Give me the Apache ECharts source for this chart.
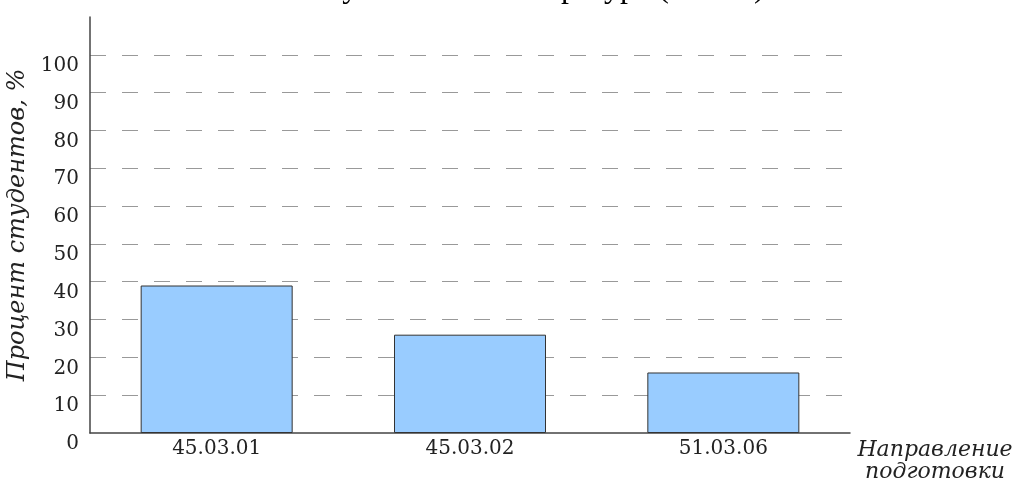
<!DOCTYPE html>
<html>
<head>
<meta charset="utf-8">
<script src="https://cdn.jsdelivr.net/npm/echarts@6/dist/echarts.min.js"></script>
<style>
html,body{margin:0;padding:0;background:#fff;}
#chart{width:1024px;height:484px;}
</style>
</head>
<body>
<div id="chart"></div>
<script>
const titleText = 'Обучение в магистратуре (2020 г)';
const categories = ['45.03.01', '45.03.02', '51.03.06'];
const values = [39, 26, 16];
const yMin = 0, yMax = 110, yInterval = 10, yLabelMax = 100;
const yName = 'Процент студентов, %';
const xName = 'Направление\nподготовки';

const chart = echarts.init(document.getElementById('chart'), null, {renderer: 'canvas'});
chart.setOption({
  animation: false,
  backgroundColor: '#fff',
  title: {
    text: titleText,
    left: 304,
    top: -27,
    padding: 0,
    textStyle: {fontFamily: 'Liberation Serif', fontSize: 32, fontWeight: 'normal', color: '#000'}
  },
  grid: {left: 90, right: 174, top: 17, bottom: 51, containLabel: false, outerBoundsMode: 'none'},
  xAxis: {
    type: 'category',
    data: categories,
    name: xName,
    nameLocation: 'end',
    nameGap: 85,
    nameTextStyle: {
      fontFamily: 'DejaVu Serif', fontStyle: 'italic', fontSize: 22, color: '#222',
      align: 'center', verticalAlign: 'top', lineHeight: 22, padding: [6, 0, 0, 0]
    },
    axisLine: {show: true, lineStyle: {color: '#444', width: 1.5}},
    axisTick: {show: false},
    axisLabel: {fontFamily: 'DejaVu Serif', fontSize: 20, color: '#222', margin: 6},
    splitLine: {show: false}
  },
  yAxis: {
    type: 'value',
    min: yMin, max: yMax, interval: yInterval,
    name: yName,
    nameLocation: 'middle',
    nameGap: 52,
    nameRotate: 90,
    nameTextStyle: {fontFamily: 'DejaVu Serif', fontStyle: 'italic', fontSize: 24, color: '#222'},
    axisLine: {show: true, lineStyle: {color: '#444', width: 1.5}},
    axisTick: {show: false},
    axisLabel: {
      fontFamily: 'DejaVu Serif', fontSize: 20, color: '#222', margin: 11,
      verticalAlign: 'top', padding: [1, 0, 0, 0],
      formatter: v => (v > yLabelMax ? '' : String(v))
    },
    splitLine: {
      show: true, showMinLine: false, showMaxLine: false,
      lineStyle: {color: '#999', width: 1, type: [16, 16]}
    }
  },
  series: [{
    type: 'bar',
    data: values,
    barWidth: '60%',
    itemStyle: {color: '#99ccff', borderColor: '#333', borderWidth: 1}
  }]
});
</script>
</body>
</html>
